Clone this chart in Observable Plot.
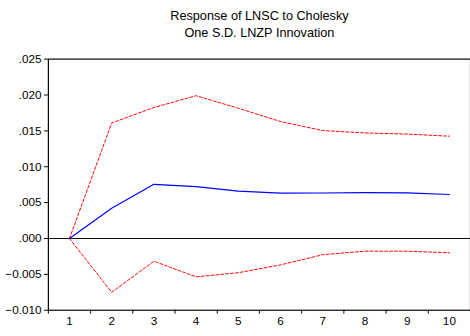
<!DOCTYPE html>
<html>
<head>
<meta charset="utf-8">
<script src="https://cdn.jsdelivr.net/npm/d3@7"></script>
<script src="https://cdn.jsdelivr.net/npm/@observablehq/plot@0.6"></script>
<style>
  html, body { margin: 0; padding: 0; background: #fff; overflow: hidden; width: 470px; height: 336px; }
  svg { display: block; }
</style>
</head>
<body>
<div id="chart"></div>
<script>
const periods = [1, 2, 3, 4, 5, 6, 7, 8, 9, 10];
const response = [0.0000, 0.00422, 0.00755, 0.00722, 0.00659, 0.00632, 0.00634, 0.00640, 0.00636, 0.00613];
const upper = [0.0000, 0.01610, 0.01825, 0.01990, 0.01815, 0.01630, 0.01504, 0.01471, 0.01455, 0.01426];
const lower = [0.0000, -0.00750, -0.00317, -0.00535, -0.00477, -0.00368, -0.00226, -0.00177, -0.00177, -0.00199];
const yTicks = [-0.010, -0.005, 0.000, 0.005, 0.010, 0.015, 0.020, 0.025];
const xBoundaryTicks = [0.5, 1.5, 2.5, 3.5, 4.5, 5.5, 6.5, 7.5, 8.5, 9.5, 10.5];
const titleLines = ["Response of LNSC to Cholesky", "One S.D. LNZP Innovation"];

const rows = periods.map((p, i) => ({p, r: response[i], u: upper[i], l: lower[i]}));
const fmt = v => d3.format(".3f")(v).replace(/^(-?)0\./, "$1.");

const chart = Plot.plot({
  width: 481,
  height: 336,
  marginTop: 60,
  marginBottom: 19,
  marginLeft: 49,
  marginRight: 0,
  style: {fontFamily: "Arial, 'Liberation Sans', sans-serif", fontSize: "12px", color: "#000", background: "#fff"},
  x: {domain: [0.5, 10.5]},
  y: {domain: [-0.010, 0.025]},
  marks: [
    Plot.ruleY([0], {stroke: "#000", strokeWidth: 1}),
    Plot.line(rows, {x: "p", y: "u", stroke: "#ff0000", strokeWidth: 1, strokeDasharray: "3,2"}),
    Plot.line(rows, {x: "p", y: "l", stroke: "#ff0000", strokeWidth: 1, strokeDasharray: "3,2"}),
    Plot.line(rows, {x: "p", y: "r", stroke: "#0000ff", strokeWidth: 1.2}),
    Plot.frame({stroke: "#000", strokeWidth: 1.2}),
    Plot.axisY({ticks: yTicks, tickFormat: fmt, tickSize: 4, tickPadding: 3, label: null, fontSize: 12}),
    Plot.axisX({ticks: xBoundaryTicks, tickFormat: () => "", tickSize: 4, label: null}),
    Plot.axisX({ticks: periods, tickFormat: d => String(d), tickSize: 0, tickPadding: 7, label: null, fontSize: 12}),
    Plot.text([titleLines[0]], {frameAnchor: "top", dy: -49, text: d => d, fontSize: 13, fill: "#000"}),
    Plot.text([titleLines[1]], {frameAnchor: "top", dy: -32, text: d => d, fontSize: 13, fill: "#000"})
  ]
});
document.getElementById("chart").appendChild(chart);
</script>
</body>
</html>
